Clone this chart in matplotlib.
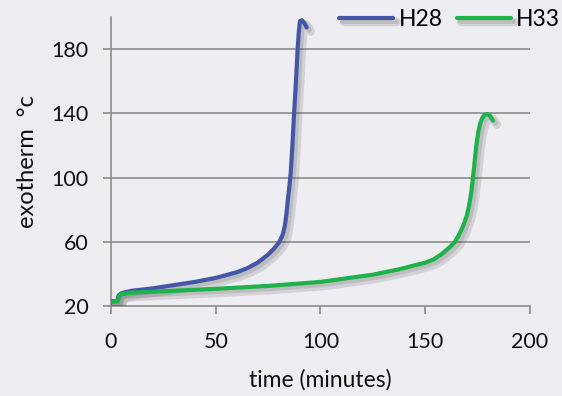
import matplotlib
matplotlib.use("Agg")
import matplotlib.pyplot as plt
import matplotlib.patheffects as pe

plt.rcParams['font.family'] = ['Lato', 'DejaVu Sans']

# time (minutes) vs exotherm (deg C)
h28_time = [0, 3.0, 3.6, 5, 10, 20, 30, 40, 50, 60, 65, 70, 75, 78, 80.4, 82, 83, 83.8,
            84.5, 85.2, 85.8, 86.6, 87.4, 88.3, 89.1, 89.6, 90.2, 91.2, 92.4, 93.4]
h28_temp = [23, 23, 26.5, 28, 29.5, 31, 33, 35, 37.5, 41, 43.5, 47, 52, 56, 60, 64.5, 70, 78,
            87, 95, 103, 120, 140, 160, 180, 190, 197.5, 198, 196, 193.5]

h33_time = [0, 3.3, 3.9, 5, 10, 25, 50, 75, 100, 125, 138, 150, 154, 158, 162, 164.2,
            166, 168, 169.8, 171, 172, 172.8, 173.6, 174.4, 175.3, 176.2, 177.2, 178.3,
            179.5, 180.8, 182.3]
h33_temp = [23, 23, 26, 27.5, 28.3, 29.2, 30.7, 32.5, 35, 39.5, 43, 47, 49, 52.5, 57, 60,
            64, 69.5, 76, 83, 91, 100, 110, 120, 128, 133.5, 137, 139, 139.6, 138.6, 135.5]

series_names = ["H28", "H33"]
series_colors = ["#4556A8", "#1DB34A"]

x_ticks = [0, 50, 100, 150, 200]
y_ticks = [20, 60, 100, 140, 180]

bg = "#EDEDF2"
fig = plt.figure(figsize=(5.62, 3.96), dpi=100, facecolor=bg)
ax = fig.add_axes([0.1975, 0.2273, 0.7455, 0.7297])
ax.set_facecolor(bg)

shadow = [pe.SimpleLineShadow(offset=(3, -3), shadow_color="#404040", alpha=0.15, linewidth=6),
          pe.SimpleLineShadow(offset=(2, -2), shadow_color="#404040", alpha=0.15, linewidth=3.5),
          pe.Normal()]

for t, v, name, col in zip([h28_time, h33_time], [h28_temp, h33_temp], series_names, series_colors):
    ax.plot(t, v, color=col, lw=3, label=name, solid_capstyle="round",
            solid_joinstyle="round", path_effects=shadow, zorder=3)

ax.set_xlim(0, 200)
ax.set_ylim(20, 200)
ax.set_xticks(x_ticks)
ax.set_yticks(y_ticks)

for y in y_ticks[1:]:
    ax.axhline(y, color="#8C8C8C", lw=1.2, zorder=1)

for s in ["top", "right"]:
    ax.spines[s].set_visible(False)
for s in ["left", "bottom"]:
    ax.spines[s].set_color("#8C8C8C")
    ax.spines[s].set_linewidth(1.2)

ax.tick_params(axis="both", colors="#8C8C8C", labelcolor="#111111", length=6,
               width=1.2, labelsize=15.5)
ax.tick_params(axis="x", pad=13)
ax.tick_params(axis="y", pad=10)

ax.set_xlabel("time (minutes)", fontsize=16.5, color="#111111", labelpad=12)
ax.set_ylabel("exotherm  °c", fontsize=17, color="#111111", labelpad=10)

fig.legend(loc="center right", bbox_to_anchor=(0.997, 0.95), ncol=2, frameon=False,
           fontsize=16.5, handlelength=2.35, handletextpad=0.25, columnspacing=0.6,
           borderpad=0, borderaxespad=0)

fig.savefig("out.png", dpi=100, facecolor=bg)
